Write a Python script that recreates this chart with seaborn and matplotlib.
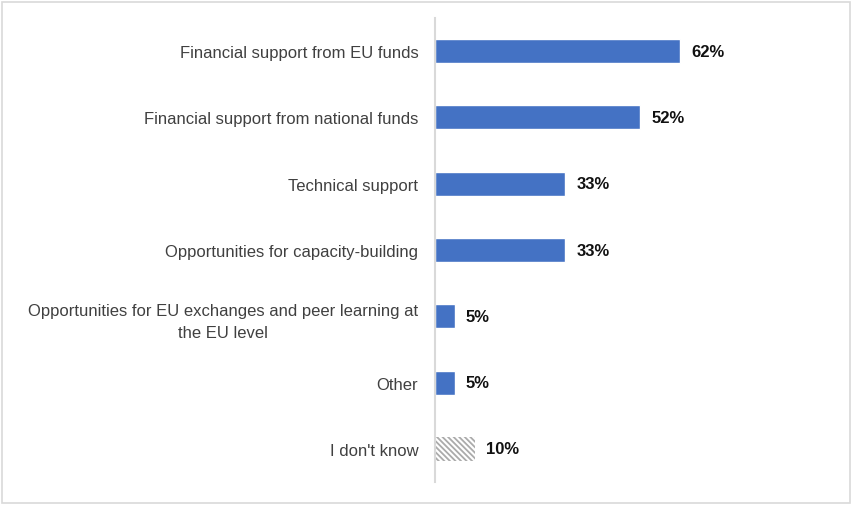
import matplotlib
matplotlib.use('Agg')
import matplotlib.pyplot as plt
import seaborn as sns
import pandas as pd
from matplotlib.patches import Rectangle

# 데이터
labels = ['Financial support from EU funds',
          'Financial support from national funds',
          'Technical support',
          'Opportunities for capacity-building',
          'Opportunities for EU exchanges and peer learning at\nthe EU level',
          'Other',
          "I don't know"]
values = [62, 52, 33, 33, 5, 5, 10]

df = pd.DataFrame({'label': labels, 'value': values})

sns.set_style('white')
plt.rcParams['font.family'] = ['Liberation Sans', 'DejaVu Sans']
plt.rcParams['hatch.linewidth'] = 1.3

fig = plt.figure(figsize=(8.53, 5.06), dpi=100)
ax = fig.add_axes([435/853, 1 - 483/506, 365/853, 464/506])

colors = ['#4472C4'] * 6 + ['#FFFFFF']
sns.barplot(data=df, y='label', x='value', hue='label', palette=colors,
            legend=False, width=0.36, ax=ax, saturation=1)

# 마지막 막대 : 빗금
last = ax.patches[-1]
last.set_facecolor('white')
last.set_edgecolor('#ABABAB')
last.set_hatch('\\\\\\\\\\\\')
last.set_linewidth(0)

for p, v in zip(ax.patches, values):
    ax.text(p.get_width() + 2.8, p.get_y() + p.get_height() / 2, f'{v}%',
            va='center', ha='left', fontsize=12, fontweight='bold', color='#111111')

ax.set_xlim(0, 92.4)
ax.set_ylim(6.5, -0.5)
ax.set_xlabel('')
ax.set_ylabel('')
ax.set_xticks([])
ax.tick_params(axis='y', length=0, pad=12, labelsize=12, labelcolor='#404040')
for lab in ax.get_yticklabels():
    lab.set_horizontalalignment('right')
    lab.set_multialignment('center')
    lab.set_linespacing(1.6)

for s in ['top', 'right', 'bottom']:
    ax.spines[s].set_visible(False)
ax.spines['left'].set_color('#D9D9D9')
ax.spines['left'].set_linewidth(1.5)

# 테두리
fig.patches.append(Rectangle((2/853, 2/506), 848/853, 501/506, transform=fig.transFigure,
                             fill=False, edgecolor='#D9D9D9', linewidth=1.2))

fig.savefig('out.png', dpi=100)
